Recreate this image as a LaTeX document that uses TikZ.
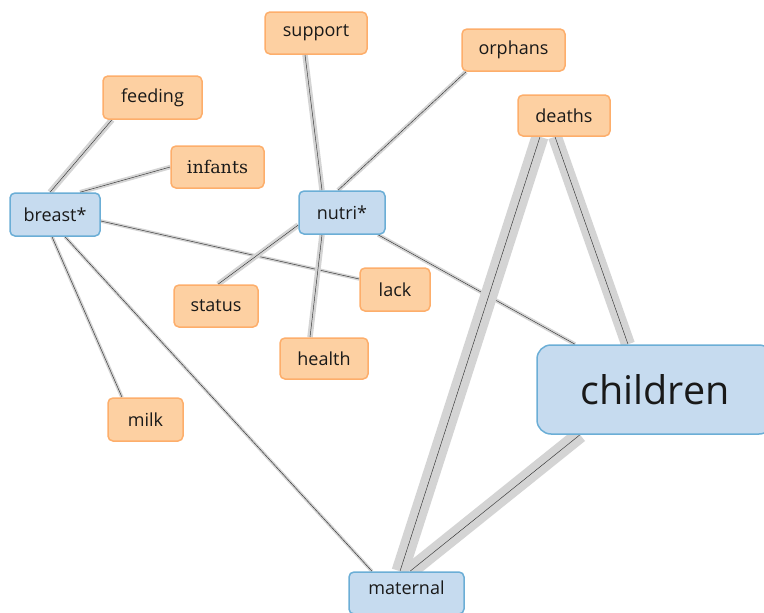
\documentclass[tikz,border=0pt]{standalone}
\usepackage{fontspec}
\setmainfont{Open Sans}
\newfontfamily\serifinf{DejaVu Serif}
\usetikzlibrary{backgrounds}
\definecolor{orfill}{HTML}{FDD0A2}
\definecolor{ordraw}{HTML}{FDAE6B}
\definecolor{blfill}{HTML}{C6DBEF}
\definecolor{bldraw}{HTML}{6BAED6}
\definecolor{edgegray}{HTML}{D4D4D4}
\tikzset{
  base/.style={rounded corners=5pt, line width=1.5pt, inner sep=0pt, font=\fontsize{18}{21}\selectfont, text=black!90, minimum height=42pt},
  term/.style={base, fill=orfill, draw=ordraw},
  hub/.style={base, fill=blfill, draw=bldraw},
  band/.style={preaction={draw=edgegray, line width=#1}, draw=black!80, line width=0.45pt}
}
\begin{document}
\begin{tikzpicture}[x=1pt,y=-1pt]
\useasboundingbox (0,0) rectangle (764,613);
\node[term, minimum width=102pt] (support) at (316,33) {support};
\node[term, minimum width=103pt] (orphans) at (513.5,50) {orphans};
\node[term, minimum width=99pt, minimum height=43pt] (feeding) at (152.5,97.5) {feeding};
\node[term, minimum width=92pt, minimum height=41pt] (deaths) at (564,115.5) {deaths};
\node[term, minimum width=93pt, font=\fontsize{17.5}{20}\serifinf] (infants) at (217.5,167) {infants};
\node[hub, minimum width=90pt, minimum height=43pt] (breast) at (55,214.5) {breast*};
\node[hub, minimum width=86pt, minimum height=43pt] (nutri) at (342,212.5) {nutri*};
\node[term, minimum width=84pt] (status) at (216,306) {status};
\node[term, minimum width=70pt, minimum height=43pt] (lack) at (395,289.5) {lack};
\node[term, minimum width=88pt, minimum height=41pt] (health) at (324,358.5) {health};
\node[hub, minimum width=236pt, minimum height=89pt, rounded corners=14pt, font=\fontsize{39.5}{46}\selectfont] (children) at (655,389.5) {children};
\node[term, minimum width=75pt, minimum height=43pt] (milk) at (145.5,419.5) {milk};
\node[hub, minimum width=115pt, text depth=10pt] (maternal) at (406.5,593) {maternal};
\begin{scope}[on background layer]
\draw[band=6pt] ([xshift=-5pt]breast.north) -- ([xshift=-40.5pt]feeding.south);
\draw[band=4.5pt] ([xshift=25pt]breast.north) -- (infants.west);
\draw[band=3.5pt] ([yshift=-6.5pt]breast.east) -- ([yshift=10.5pt]lack.west);
\draw[band=3.5pt] ([xshift=-3pt]breast.south) -- ([xshift=-23.5pt]milk.north);
\draw[band=3.5pt] ([xshift=10pt]breast.south) -- ([xshift=-34.5pt]maternal.north);
\draw[band=5.5pt] ([xshift=-11pt]support.south) -- ([xshift=-20pt]nutri.north);
\draw[band=4.5pt] ([xshift=-47.5pt]orphans.south) -- ([xshift=-4pt]nutri.north);
\draw[band=5.5pt] ([yshift=-12.5pt]nutri.west) -- ([xshift=2pt]status.north);
\draw[band=5.5pt] ([xshift=-20pt]nutri.south) -- ([xshift=-14pt]health.north);
\draw[band=4pt] ([xshift=36pt]nutri.south) -- ([xshift=-80pt]children.north);
\draw[band=17pt] ([xshift=-24pt]deaths.south) -- ([xshift=-6.5pt]maternal.north);
\draw[band=14pt] ([xshift=-9pt]deaths.south) -- ([xshift=-27pt]children.north);
\draw[band=16pt] ([xshift=-75pt]children.south) -- ([xshift=3.5pt]maternal.north);
\end{scope}
\end{tikzpicture}
\end{document}
